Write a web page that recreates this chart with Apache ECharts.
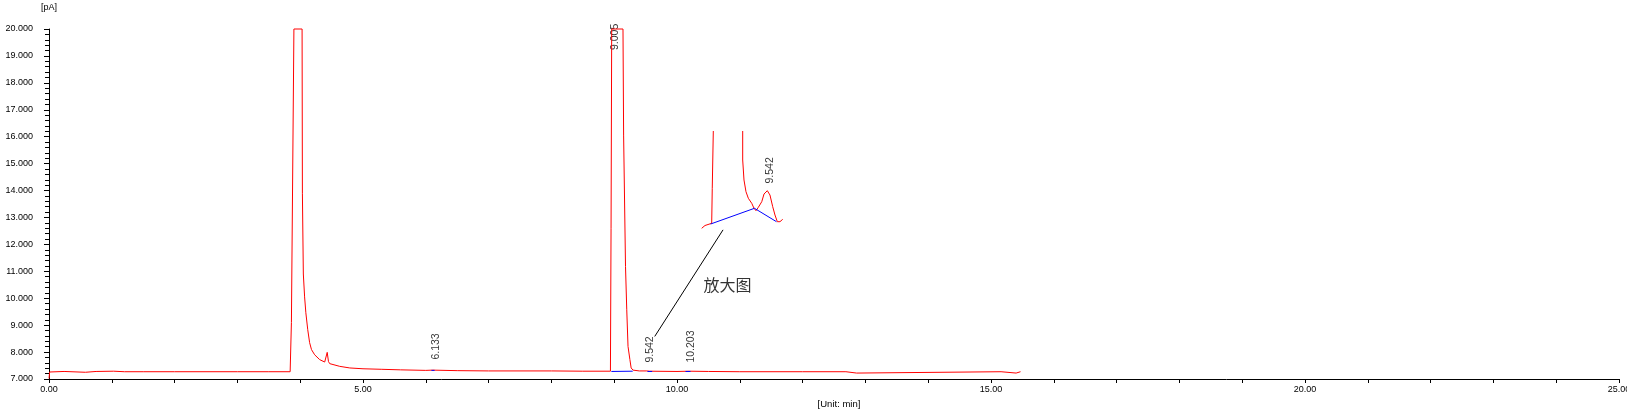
<!DOCTYPE html>
<html>
<head>
<meta charset="utf-8">
<script src="https://cdn.jsdelivr.net/npm/echarts@6/dist/echarts.min.js"></script>
<style>
  html, body { margin: 0; padding: 0; background: #fff; }
  #chart { width: 1627px; height: 413px; }
</style>
</head>
<body>
<div id="chart"></div>
<script>
// chromatogram trace: time [min], signal [pA]
const traceTime = [
  0, 0.01, 0.24, 0.26, 0.58, 0.75, 1.03, 1.2, 1.5, 2.0, 2.5, 3.0, 3.5, 3.84,
  3.86, 3.90, 4.03, 4.035, 4.05, 4.07, 4.09, 4.12, 4.15, 4.18, 4.23, 4.31, 4.39, 4.42, 4.43, 4.45, 4.47, 4.63, 4.79,
  5.0, 5.3, 5.6, 6.0, 6.11, 6.14, 6.5, 7.0, 7.5, 8.0, 8.5, 8.94,
  8.95, 8.96, 9.14, 9.15, 9.18, 9.20, 9.22, 9.25, 9.27, 9.30, 9.40, 9.52, 9.542, 9.56,
  10.0, 10.2, 10.5, 11.0, 12.0, 12.69, 12.70, 12.86, 12.87, 15.16, 15.17, 15.40, 15.47
];
const traceSignal = [
  7.02, 7.26, 7.28, 7.26, 7.25, 7.28, 7.29, 7.27, 7.27, 7.27, 7.27, 7.27, 7.27, 7.27,
  9.1, 20, 20, 13.9, 10.9, 10.05, 9.46, 8.83, 8.35, 8.09, 7.90, 7.72, 7.63, 7.62, 7.99, 7.65, 7.57, 7.47, 7.41,
  7.38, 7.36, 7.34, 7.32, 7.33, 7.31, 7.31, 7.30, 7.30, 7.30, 7.29, 7.29,
  12.6, 20, 20, 16.06, 11.18, 9.57, 8.21, 7.72, 7.41, 7.33, 7.30, 7.30, 7.31, 7.29,
  7.28, 7.29, 7.28, 7.27, 7.27, 7.27, 7.22, 7.22, 7.27, 7.27, 7.22, 7.22, 7.27
];

// integration baselines (blue)
const baselines = [
  [[6.09, 7.32], [6.14, 7.32]],
  [[8.955, 7.28], [9.295, 7.29]],
  [[9.53, 7.28], [9.605, 7.28]],
  [[10.135, 7.28], [10.215, 7.28]]
];

// peak labels: [time, anchor signal, text]
const peakLabels = [
  [6.16, 7.72, '6.133'],
  [9.01, 19.22, '9.005'],
  [9.565, 7.61, '9.542'],
  [10.23, 7.61, '10.203']
];

// zoomed inset around 9.542 (null = gap where the big peak leaves the frame)
const insetTime = [
  8.839, 8.874, 8.892, 8.945, 8.951, 8.951, 8.962, 8.962, 9.10, 9.2733, 9.2733, 9.287, 9.308, 9.333,
  9.369, 9.393, 9.414, 9.439, 9.457, 9.475, 9.499, 9.534, 9.562, 9.591, 9.615, 9.640, 9.668, 9.697
];
const insetSignal = [
  7.2554, 7.261, 7.264, 7.2654, 7.2654, 7.3354, 7.3354, 7.45, null, 7.45, 7.392, 7.352, 7.3286, 7.3154,
  7.3054, 7.2954, 7.2906, 7.2974, 7.2934, 7.3086, 7.324, 7.3306, 7.322, 7.2986, 7.282, 7.2686, 7.2686, 7.2734
];
const insetBaseline = [[8.934, 7.264], [9.398, 7.2954], [9.631, 7.2686]];
const insetLabel = [9.56, 7.345, '9.542'];

// pointer from the inset to the small peak
const pointerLine = [[9.645, 8.58], [10.733, 12.54]];
const pointerText = [10.42, 10.5, '放大图'];

const font = "'Liberation Sans', Arial, sans-serif";

const chart = echarts.init(document.getElementById('chart'), null, { renderer: 'canvas' });

const rotatedLabel = {
  show: true, position: 'inside', formatter: '{b}', rotate: 90,
  align: 'left', verticalAlign: 'middle',
  fontFamily: font, fontSize: 10.5, color: '#000'
};

const baselineSeries = baselines.map(seg => ({
  type: 'line', xAxisIndex: 0, yAxisIndex: 0,
  data: seg, showSymbol: false, silent: true,
  lineStyle: { color: '#0000ff', width: 1 }
}));

chart.setOption({
  animation: false,
  grid: [
    { left: 49, right: 8, top: 29, bottom: 34, outerBoundsMode: 'none' },
    { left: 698, top: 131, width: 85, height: 100, outerBoundsMode: 'none' }
  ],
  xAxis: [{
    type: 'value', gridIndex: 0, min: 0, max: 25, interval: 1,
    splitLine: { show: false },
    axisLine: { lineStyle: { color: '#000', width: 1 } },
    axisTick: { length: 4, lineStyle: { color: '#000' } },
    axisLabel: {
      margin: 6, fontFamily: font, fontSize: 9, color: '#000',
      formatter: v => (v % 5 === 0 ? v.toFixed(2) : '')
    },
    name: '[Unit: min]', nameLocation: 'middle', nameGap: 19,
    nameTextStyle: { fontFamily: font, fontSize: 9.5, color: '#000', padding: [0, 0, 0, 10] }
  }, {
    type: 'value', gridIndex: 1, min: 8.8, max: 9.7, show: false
  }],
  yAxis: [{
    type: 'value', gridIndex: 0, min: 7, max: 20, interval: 1,
    splitLine: { show: false },
    axisLine: { show: true, lineStyle: { color: '#000', width: 1 } },
    axisTick: { show: true, length: 5, lineStyle: { color: '#000' } },
    minorTick: { show: true, splitNumber: 5, length: 4, lineStyle: { color: '#000' } },
    axisLabel: { margin: 16, fontFamily: font, fontSize: 9, color: '#000', formatter: v => v.toFixed(3) },
    name: '[pA]', nameLocation: 'end', nameGap: 17,
    nameTextStyle: { fontFamily: font, fontSize: 9, color: '#000' }
  }, {
    type: 'value', gridIndex: 1, min: 7.25, max: 7.45, show: false
  }],
  series: [
    {
      type: 'line', xAxisIndex: 0, yAxisIndex: 0,
      data: traceTime.map((t, i) => [t, traceSignal[i]]),
      showSymbol: false, silent: true, clip: false,
      lineStyle: { color: '#ff0000', width: 1 }
    },
    ...baselineSeries,
    {
      type: 'scatter', xAxisIndex: 0, yAxisIndex: 0, symbolSize: 0, silent: true,
      data: peakLabels.map(p => ({ value: [p[0], p[1]], name: p[2] })),
      label: rotatedLabel
    },
    {
      type: 'line', xAxisIndex: 0, yAxisIndex: 0,
      data: pointerLine, showSymbol: false, silent: true,
      lineStyle: { color: '#000', width: 1 }
    },
    {
      type: 'scatter', xAxisIndex: 0, yAxisIndex: 0, symbolSize: 0, silent: true,
      data: [{ value: [pointerText[0], pointerText[1]], name: pointerText[2] }],
      label: {
        show: true, position: 'inside', formatter: '{b}', align: 'left', verticalAlign: 'middle',
        fontFamily: "'Noto Sans CJK SC', sans-serif", fontSize: 16, color: '#000'
      }
    },
    {
      type: 'line', xAxisIndex: 1, yAxisIndex: 1,
      data: insetTime.map((t, i) => [t, insetSignal[i] === null ? '-' : insetSignal[i]]),
      showSymbol: false, silent: true, clip: false, connectNulls: false,
      lineStyle: { color: '#ff0000', width: 1 }
    },
    {
      type: 'line', xAxisIndex: 1, yAxisIndex: 1,
      data: insetBaseline, showSymbol: false, silent: true,
      lineStyle: { color: '#0000ff', width: 1 }
    },
    {
      type: 'scatter', xAxisIndex: 1, yAxisIndex: 1, symbolSize: 0, silent: true,
      data: [{ value: [insetLabel[0], insetLabel[1]], name: insetLabel[2] }],
      label: rotatedLabel
    }
  ]
});
</script>
</body>
</html>
